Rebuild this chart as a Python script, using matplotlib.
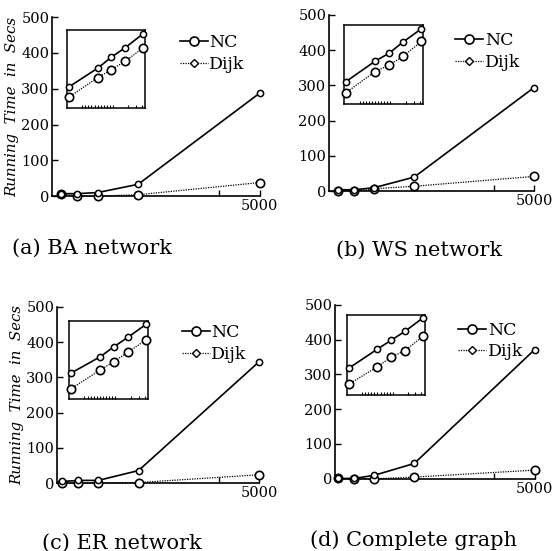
import numpy as np
import matplotlib
matplotlib.use("Agg")
import matplotlib.pyplot as plt
from matplotlib.lines import Line2D

# graph sizes used in every run
n_sizes = [100, 500, 1000, 2000, 5000]

# running time in secs (solid line / dotted line)
nc_ba = [7, 7, 10, 33, 288]
dijk_ba = [5, 1, 0, 4, 38]
nc_ws = [4, 4, 10, 40, 294]
dijk_ws = [1, 0, 7, 14, 42]
nc_er = [5, 8, 8, 36, 345]
dijk_er = [0, 0, 0, 2, 24]
nc_cg = [1, 1, 10, 44, 371]
dijk_cg = [1, 0, 0, 5, 25]

# the small insets (zoomed, relative units 0..100)
inset_n = [1, 20, 29, 38, 50]
inset_nc_ba = [27, 51, 65, 77, 95]
inset_dijk_ba = [14, 39, 49, 60, 77]
inset_nc_ws = [28, 54, 64, 78, 95]
inset_dijk_ws = [14, 41, 49, 60, 79]
inset_nc_er = [33, 54, 67, 79, 96]
inset_dijk_er = [13, 37, 48, 60, 76]
inset_nc_cg = [33, 57, 68, 79, 96]
inset_dijk_cg = [13, 35, 47, 55, 73]

captions = ["(a) BA network", "(b) WS network", "(c) ER network", "(d) Complete graph"]
yticks = [0, 100, 200, 300, 400, 500]

SERIF = "DejaVu Serif"

fig = plt.figure(figsize=(5.54, 5.51), dpi=100)

# panel boxes in figure fractions, and inset boxes in axes fractions
panel_pos = [
    [0.094, 0.644, 0.375, 0.325],
    [0.594, 0.653, 0.370, 0.320],
    [0.103, 0.123, 0.365, 0.320],
    [0.605, 0.131, 0.360, 0.316],
]
# the scan is not quite even: the x axis starts a bit differently per panel
x_start = [-120, -130, -25, 30]
inset_pos = [
    [0.072, 0.49, 0.375, 0.44],
    [0.073, 0.494, 0.385, 0.45],
    [0.059, 0.477, 0.39, 0.443],
    [0.060, 0.483, 0.388, 0.46],
]
caption_xy = [(92, 248), (419, 250), (122, 543), (414, 540)]

panels = [
    (nc_ba, dijk_ba, inset_nc_ba, inset_dijk_ba),
    (nc_ws, dijk_ws, inset_nc_ws, inset_dijk_ws),
    (nc_er, dijk_er, inset_nc_er, inset_dijk_er),
    (nc_cg, dijk_cg, inset_nc_cg, inset_dijk_cg),
]


def draw_lines(ax, x, solid, dotted, big=6.0, small=4.5):
    ax.plot(x, dotted, linestyle=(0, (1, 1)), color="k", lw=0.9, marker="o",
            markersize=big, markerfacecolor="white", markeredgecolor="k",
            markeredgewidth=1.2, clip_on=False, zorder=3)
    ax.plot(x, solid, linestyle="-", color="k", lw=1.2, marker="o",
            markersize=small, markerfacecolor="white", markeredgecolor="k",
            markeredgewidth=1.1, clip_on=False, zorder=4)


for i, (solid, dotted, in_solid, in_dotted) in enumerate(panels):
    ax = fig.add_axes(panel_pos[i])
    draw_lines(ax, n_sizes, solid, dotted)
    ax.set_xlim(x_start[i], 5000)
    ax.set_ylim(0, 500)
    ax.spines["top"].set_visible(False)
    ax.spines["right"].set_visible(False)
    for s in ["left", "bottom"]:
        ax.spines[s].set_linewidth(1.2)
    ax.set_yticks(yticks)
    ax.set_xticks([4000, 5000])
    ax.set_xticklabels(["", "5000"])
    ax.tick_params(direction="in", length=4, width=1.0, pad=2)
    for lab in ax.get_xticklabels() + ax.get_yticklabels():
        lab.set_fontfamily(SERIF)
        lab.set_fontsize(10.5)

    if i % 2 == 0:
        ax.set_ylabel("Running  Time  in  Secs", fontfamily=SERIF,
                      fontstyle="italic", fontsize=10.8)
        ax.yaxis.set_label_coords(-0.16, 0.5)

    # legend: the way it is drawn in the original figure
    handles = [
        Line2D([], [], color="k", lw=1.2, marker="o", markersize=6.5,
               markerfacecolor="white", markeredgewidth=1.2),
        Line2D([], [], color="k", lw=0.9, linestyle=(0, (1, 1)), marker="D",
               markersize=4, markerfacecolor="white", markeredgewidth=1.0),
    ]
    ax.legend(handles, ["NC", "Dijk"], loc="upper left",
              bbox_to_anchor=(0.54, 0.99), frameon=False, handlelength=1.6,
              handletextpad=0.1, labelspacing=0.25,
              prop={"family": SERIF, "size": 12.5})

    # inset
    ip = inset_pos[i]
    ins = ax.inset_axes(ip)
    draw_lines(ins, inset_n, in_solid, in_dotted, big=6.0, small=4.5)
    ins.set_xlim(0, 51)
    ins.set_ylim(0, 100)
    ins.set_yticks([])
    ins.set_xticks([10, 12, 14, 16, 18, 20, 22, 24, 26, 28, 30, 40, 45, 49])
    ins.set_xticklabels([])
    ins.tick_params(axis="x", direction="in", length=2, width=0.8)
    for s in ins.spines.values():
        s.set_linewidth(1.1)

    fig.text(caption_xy[i][0] / 554, 1 - caption_xy[i][1] / 551, captions[i],
             ha="center", va="center", fontfamily=SERIF, fontsize=15)

fig.savefig("out.png", dpi=100)
